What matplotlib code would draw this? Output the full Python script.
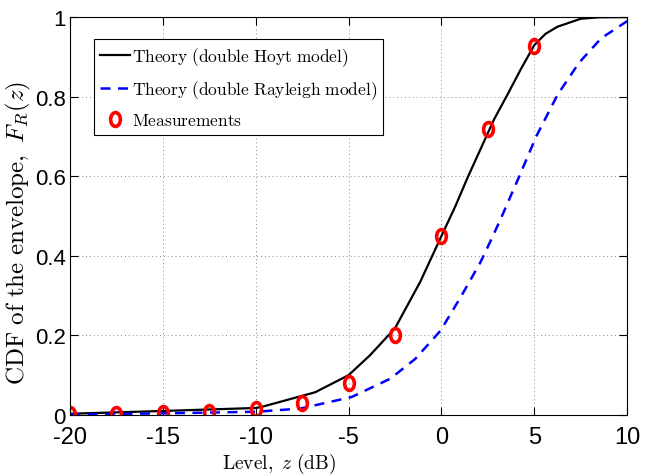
import numpy as np
import matplotlib
matplotlib.use("Agg")
import matplotlib.pyplot as plt
from matplotlib.markers import MarkerStyle
from matplotlib.transforms import Affine2D

plt.rcParams["mathtext.fontset"] = "cm"

# theory, double Hoyt
hoyt_z = [-20, -15, -10, -9.7, -6.8, -5, -3.85, -2.5, -2.13, -1.14, -0.05, 0.76, 1.39, 2.1, 2.83,
          3.55, 4.27, 5.0, 5.6, 6.25, 7.5, 8.5, 10]
hoyt_F = [0.003, 0.010, 0.0175, 0.020, 0.057, 0.100, 0.150, 0.218, 0.25, 0.335, 0.445, 0.526, 0.595,
          0.668, 0.743, 0.805, 0.869, 0.930, 0.958, 0.976, 0.996, 0.9995, 1.0]

# theory, double Rayleigh
ray_z = [-20, -15, -10, -7.6, -4.84, -2.76, -1.41, -0.05, 1.03, 2.1, 2.65, 3.19, 4.18, 5.1, 6.25,
         7.4, 8.6, 10]
ray_F = [0.001, 0.004, 0.008, 0.016, 0.045, 0.091, 0.141, 0.212, 0.296, 0.384, 0.438, 0.493, 0.599,
         0.700, 0.805, 0.885, 0.947, 0.99]

# measurements
meas_z = [-20, -17.5, -15, -12.5, -10, -7.5, -5, -2.5, 0, 2.5, 5]
meas_F = [0.002, 0.003, 0.004, 0.0075, 0.014, 0.031, 0.081, 0.2015, 0.45, 0.72, 0.927]

xticks = [-20, -15, -10, -5, 0, 5, 10]
yticks = [0, 0.2, 0.4, 0.6, 0.8, 1]
ytick_labels = ["0", "0.2", "0.4", "0.6", "0.8", "1"]

tick_font = ["Liberation Sans", "DejaVu Sans"]

fig = plt.figure(figsize=(6.51, 4.77), dpi=100)
ax = fig.add_axes([0.1075, 0.128, 0.856, 0.834])

ax.plot(hoyt_z, hoyt_F, color="black", lw=1.6,
        label=r"$\mathrm{Theory\ (double\ Hoyt\ model)}$")
ax.plot(ray_z, ray_F, color="blue", lw=1.8, linestyle=(0, (4, 3)),
        label=r"$\mathrm{Theory\ (double\ Rayleigh\ model)}$")
oval = MarkerStyle("o", transform=Affine2D().scale(0.7, 1.0))
ax.plot(meas_z, meas_F, linestyle="none", marker=oval, markersize=10,
        markerfacecolor="none", markeredgecolor="red", markeredgewidth=2.6,
        label=r"$\mathrm{Measurements}$")

ax.set_xlim(-20, 10)
ax.set_ylim(0, 1)
ax.set_xticks(xticks)
ax.set_yticks(yticks)
ax.set_xticklabels([str(t) for t in xticks], family=tick_font, fontsize=17)
ax.set_yticklabels(ytick_labels, family=tick_font, fontsize=16)
ax.tick_params(direction="in", top=True, right=True, length=6, width=0.8)
ax.tick_params(axis="x", pad=8)
ax.tick_params(axis="y", pad=3)
ax.grid(True, color="#888888", linestyle=(0, (1, 3)), linewidth=0.7)

ax.set_xlabel(r"$\mathrm{Level,}\ z\ \mathrm{(dB)}$", fontsize=14)
ax.xaxis.set_label_coords(0.375, -0.09)
ax.set_ylabel(r"$\mathrm{CDF\ of\ the\ envelope,}\ F_R(z)$", fontsize=18)
ax.yaxis.set_label_coords(-0.066, 0.46)

leg = ax.legend(loc="upper left", bbox_to_anchor=(0.043, 0.945), borderaxespad=0,
                fontsize=12.5, fancybox=False, framealpha=1, edgecolor="black",
                handlelength=1.7, handletextpad=0.15, borderpad=0.35, labelspacing=0.6)
leg.get_frame().set_linewidth(0.8)

fig.savefig("out.png", dpi=100)
